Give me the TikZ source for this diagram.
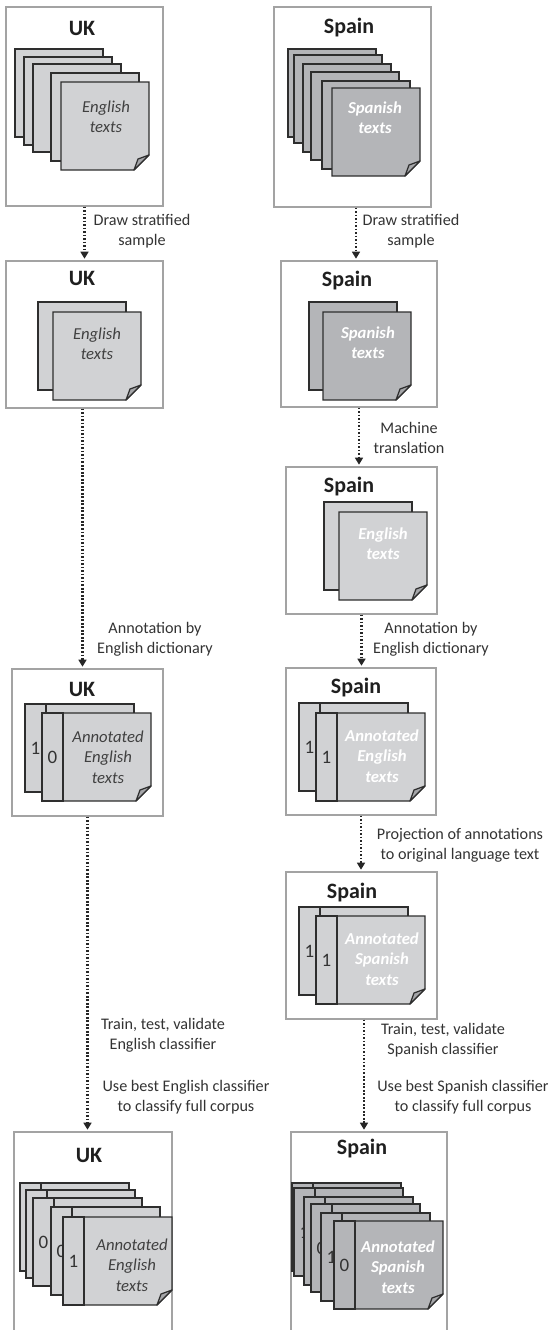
\documentclass[tikz,border=0pt]{standalone}
\usepackage{fontspec}
\setmainfont{Carlito}
\usepackage{tikz}
\usetikzlibrary{arrows.meta,fit}
\definecolor{panelgray}{HTML}{A3A3A3}
\definecolor{inkgray}{HTML}{2E2E2E}
\definecolor{lightsheet}{HTML}{D1D2D4}
\definecolor{darksheet}{HTML}{B4B5B8}
\definecolor{flapgray}{HTML}{A5A6A9}
\definecolor{labelgray}{HTML}{333333}

% one page of a stack, top-left corner at (#1,#2)
\newcommand{\sheet}[3]{\draw[sheetline, fill=#3] (#1,#2) rectangle ++(88,88);}
% front page with the turned-up corner
\newcommand{\foldsheet}[3]{%
  \draw[sheetline, fill=#3] (#1,#2) -- ++(88,0) -- ++(0,73) -- ++(-15,15) -- ++(-73,0) -- cycle;
  \draw[sheetline, fill=flapgray, line join=round] (#1+88,#2+73) -- ++(-15,15) -- ++(4,-11) -- cycle;}
% annotated page: label tab + page
\newcommand{\tabsheet}[5]{%
  \sheet{#2+21}{#3}{#4}
  \draw[sheetline, fill=#4] (#2,#3) rectangle ++(21,88);
  \node[digit] (#1) at (#2+10.5,#3+44) {#5};}
\newcommand{\foldtabsheet}[5]{%
  \foldsheet{#2+21}{#3}{#4}
  \draw[sheetline, fill=#4] (#2,#3) rectangle ++(21,88);
  \node[digit] (#1) at (#2+10.5,#3+44) {#5};}

\begin{document}
\begin{tikzpicture}[x=0.02cm, y=-0.02cm,
  panel/.style={draw=panelgray, line width=0.6pt, inner sep=0pt},
  sheetline/.style={draw=inkgray, line width=0.7pt},
  flow/.style={-{Triangle[length=4pt,width=4.5pt]}, black!85, line width=1.3pt,
    dash pattern=on 1pt off 1pt, shorten >=1pt},
  title/.style={font=\fontsize{12.5}{15}\selectfont\bfseries, text=black!88, anchor=base},
  doctext/.style={font=\fontsize{9.5}{11.6}\selectfont\itshape, align=center, text=black!75},
  esdoctext/.style={font=\fontsize{9.5}{11.6}\selectfont\bfseries\itshape, align=center, text=white},
  digit/.style={font=\fontsize{10.8}{12}\selectfont, text=black!80, inner sep=0pt},
  note/.style={font=\fontsize{9.2}{11.2}\selectfont, align=center, text=labelgray}]
\useasboundingbox (0,0) rectangle (555,1330);

% ---- UK column
\node[panel, fit={(6,7) (163,206)}] (ukA) {};
\node[title] (ukAttl) at (82,35) {UK};
\foreach \x/\y in {15/49, 24/57, 33/64, 51/73} {\sheet{\x}{\y}{lightsheet}}
\foldsheet{61}{82}{lightsheet}
\node[doctext] (ukAtxt) at (106,117) {English\\texts};

\node[panel, fit={(6,261) (163,408)}] (ukB) {};
\node[title] (ukBttl) at (82,285) {UK};
\sheet{38}{302}{lightsheet}
\foldsheet{53}{312}{lightsheet}
\node[doctext] (ukBtxt) at (97,344) {English\\texts};

\node[panel, fit={(12,669) (163,816)}] (ukC) {};
\node[title] (ukCttl) at (82,696) {UK};
\tabsheet{ukCa}{25}{704}{lightsheet}{1}
\foldtabsheet{ukCb}{42}{713}{lightsheet}{0}
\node[doctext] (ukCtxt) at (108,757) {Annotated\\English\\texts};

\node[panel, fit={(14,1132) (172,1340)}] (ukD) {};
\node[title] (ukDttl) at (89,1162) {UK};
\foreach \n/\x/\y/\d in {a/20/1183/0, b/26/1190/, c/33/1198/0, d/51/1207/0} {\tabsheet{ukD\n}{\x}{\y}{lightsheet}{\d}}
\foldtabsheet{ukDe}{63}{1217}{lightsheet}{1}
\node[doctext] (ukDtxt) at (132,1265) {Annotated\\English\\texts};

% ---- Spain column
\node[panel, fit={(274,7) (431,207)}] (esA) {};
\node[title] (esAttl) at (349,33) {Spain};
\foreach \x/\y in {288/49, 294/55, 303/64, 311/72, 322/81} {\sheet{\x}{\y}{darksheet}}
\foldsheet{332}{88}{darksheet}
\node[esdoctext] (esAtxt) at (375,118) {Spanish\\texts};

\node[panel, fit={(281,261) (437,407)}] (esB) {};
\node[title] (esBttl) at (347,286) {Spain};
\sheet{309}{302}{darksheet}
\foldsheet{323}{312}{darksheet}
\node[esdoctext] (esBtxt) at (368,343) {Spanish\\texts};

\node[panel, fit={(286,467) (437,614)}] (esC) {};
\node[title] (esCttl) at (349,492) {Spain};
\sheet{324}{502}{lightsheet}
\foldsheet{339}{512}{lightsheet}
\node[esdoctext] (esCtxt) at (383,544) {English\\texts};

\node[panel, fit={(286,668) (436,815)}] (esD) {};
\node[title] (esDttl) at (356,693) {Spain};
\tabsheet{esDa}{299}{703}{lightsheet}{1}
\foldtabsheet{esDb}{316}{713}{lightsheet}{1}
\node[esdoctext] (esDtxt) at (382,756) {Annotated\\English\\texts};

\node[panel, fit={(286,872) (437,1019)}] (esE) {};
\node[title] (esEttl) at (352,898) {Spain};
\tabsheet{esEa}{299}{907}{lightsheet}{1}
\foldtabsheet{esEb}{316}{916}{lightsheet}{1}
\node[esdoctext] (esEtxt) at (382,959) {Annotated\\Spanish\\texts};

\node[panel, fit={(291,1132) (447,1340)}] (esF) {};
\node[title] (esFttl) at (362,1154) {Spain};
\foreach \n/\x/\y/\d in {a/292/1183/, b/294/1188/1, c/304/1197/1, d/311/1204/0, e/321/1213/1} {\tabsheet{esF\n}{\x}{\y}{darksheet}{\d}}
\foldtabsheet{esFf}{334}{1221}{darksheet}{0}
\node[esdoctext] (esFtxt) at (398,1267) {Annotated\\Spanish\\texts};

% ---- steps
\draw[flow] (ukA.south) -- (ukA.south |- ukB.north);
\draw[flow] ([xshift=-0.04cm]ukB.south) -- ([xshift=-0.04cm]ukB.south |- ukC.north);
\draw[flow] (ukC.south) -- (ukC.south |- ukD.north);
\draw[flow] ([xshift=0.07cm]esA.south) -- ([xshift=0.07cm]esA.south |- esB.north);
\draw[flow] (esB.south) -- (esB.south |- esC.north);
\draw[flow] (esC.south) -- (esC.south |- esD.north);
\draw[flow] (esD.south) -- (esD.south |- esE.north);
\draw[flow] ([xshift=0.05cm]esE.south) -- ([xshift=0.05cm]esE.south |- esF.north);

\node[note] (ukDraw) at (142,231) {Draw stratified\\sample};
\node[note] (ukAnn) at (155,639) {Annotation by\\English dictionary};
\node[note] (ukTrain) at (163,1035) {Train, test, validate\\English classifier};
\node[note] (ukUse) at (186,1097) {Use best English classifier\\to classify full corpus};
\node[note] (esDraw) at (411,231) {Draw stratified\\sample};
\node[note] (esMt) at (409,438) {Machine\\translation};
\node[note] (esAnn) at (431,639) {Annotation by\\English dictionary};
\node[note] (esProj) at (460,845) {Projection of annotations\\to original language text};
\node[note] (esTrain) at (443,1040) {Train, test, validate\\Spanish classifier};
\node[note] (esUse) at (463,1097) {Use best Spanish classifier\\to classify full corpus};
\end{tikzpicture}
\end{document}
